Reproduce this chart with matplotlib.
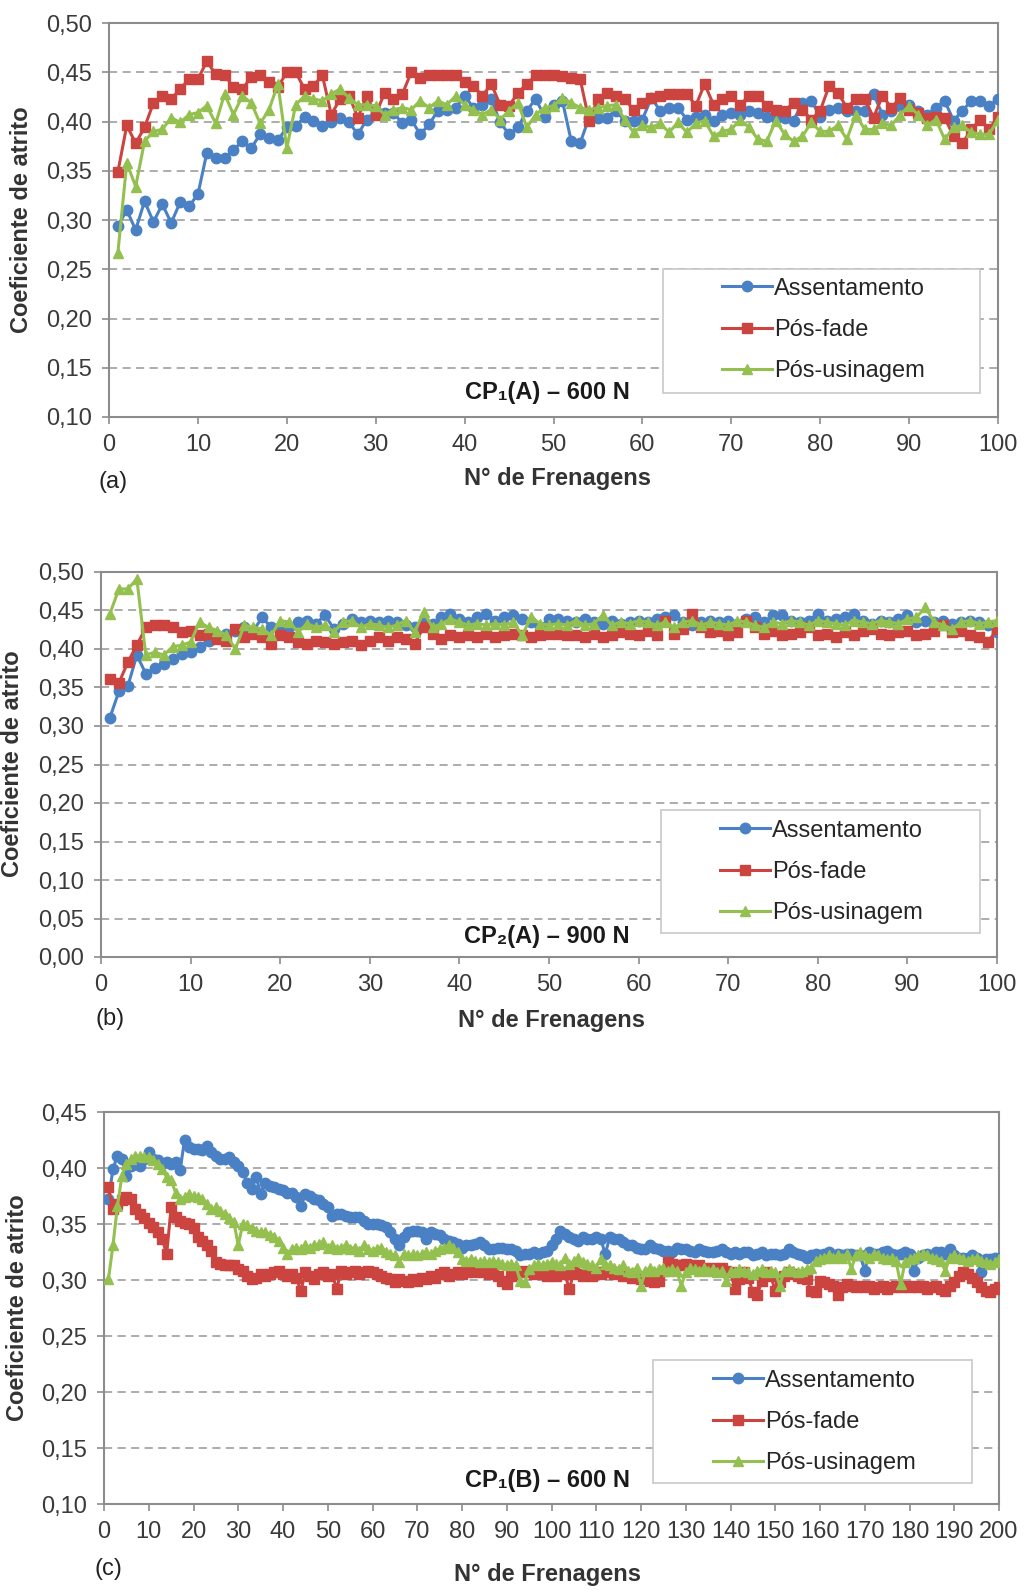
import numpy as np
import matplotlib
matplotlib.use("Agg")
import matplotlib.pyplot as plt
from matplotlib.patches import Rectangle
from matplotlib.ticker import FuncFormatter

plt.rcParams['font.family'] = ['Liberation Sans', 'DejaVu Sans']

# series names and colours (Excel style)
series_names = ["Assentamento", "Pós-fade", "Pós-usinagem"]
series_colors = ["#4A80C4", "#CC4440", "#94C04F"]
series_markers = ["o", "s", "^"]

# ---- (a) CP1(A) - 600 N ----
frenagens_a = np.arange(1, 101)
assent_a = [0.294, 0.310, 0.290, 0.319, 0.298, 0.316, 0.297, 0.318, 0.314, 0.326,
            0.368, 0.363, 0.363, 0.371, 0.380, 0.373, 0.387, 0.383, 0.381, 0.394,
            0.395, 0.405, 0.401, 0.395, 0.399, 0.404, 0.399, 0.387, 0.402, 0.411,
            0.409, 0.409, 0.398, 0.402, 0.387, 0.397, 0.411, 0.412, 0.414, 0.426,
            0.414, 0.417, 0.423, 0.399, 0.387, 0.394, 0.411, 0.423, 0.405, 0.417,
            0.421, 0.380, 0.378, 0.404, 0.404, 0.404, 0.411, 0.401, 0.401, 0.402,
            0.424, 0.411, 0.414, 0.414, 0.402, 0.405, 0.407, 0.401, 0.407, 0.409,
            0.407, 0.411, 0.409, 0.405, 0.404, 0.404, 0.401, 0.419, 0.421, 0.405,
            0.412, 0.414, 0.411, 0.411, 0.411, 0.428, 0.407, 0.411, 0.416, 0.417,
            0.411, 0.407, 0.414, 0.421, 0.401, 0.411, 0.421, 0.421, 0.416, 0.423]
posfade_a = [0.349, 0.396, 0.378, 0.394, 0.419, 0.426, 0.423, 0.433, 0.443, 0.443,
             0.461, 0.448, 0.447, 0.435, 0.433, 0.445, 0.447, 0.440, 0.435, 0.450,
             0.450, 0.433, 0.436, 0.447, 0.407, 0.423, 0.426, 0.404, 0.426, 0.407,
             0.429, 0.423, 0.428, 0.450, 0.444, 0.447, 0.447, 0.447, 0.447, 0.440,
             0.436, 0.426, 0.438, 0.417, 0.416, 0.429, 0.438, 0.447, 0.447, 0.447,
             0.446, 0.444, 0.443, 0.401, 0.423, 0.429, 0.426, 0.423, 0.412, 0.419,
             0.424, 0.426, 0.428, 0.428, 0.428, 0.416, 0.438, 0.417, 0.423, 0.426,
             0.417, 0.426, 0.426, 0.416, 0.412, 0.411, 0.419, 0.412, 0.402, 0.411,
             0.436, 0.429, 0.414, 0.423, 0.423, 0.404, 0.426, 0.414, 0.424, 0.412,
             0.409, 0.404, 0.405, 0.404, 0.385, 0.378, 0.392, 0.402, 0.392, 0.405]
posusin_a = [0.267, 0.358, 0.334, 0.380, 0.390, 0.392, 0.404, 0.399, 0.407, 0.409,
             0.416, 0.398, 0.428, 0.407, 0.426, 0.419, 0.398, 0.412, 0.438, 0.373,
             0.417, 0.426, 0.423, 0.421, 0.428, 0.433, 0.424, 0.417, 0.417, 0.416,
             0.407, 0.412, 0.414, 0.412, 0.421, 0.414, 0.421, 0.417, 0.426, 0.417,
             0.412, 0.407, 0.412, 0.402, 0.411, 0.419, 0.394, 0.407, 0.414, 0.416,
             0.424, 0.419, 0.414, 0.412, 0.414, 0.416, 0.417, 0.402, 0.389, 0.396,
             0.394, 0.398, 0.389, 0.399, 0.389, 0.398, 0.401, 0.385, 0.390, 0.392,
             0.402, 0.394, 0.382, 0.380, 0.401, 0.387, 0.380, 0.385, 0.399, 0.390,
             0.390, 0.396, 0.382, 0.407, 0.392, 0.392, 0.398, 0.396, 0.407, 0.416,
             0.407, 0.396, 0.402, 0.382, 0.394, 0.396, 0.389, 0.387, 0.387, 0.402]

# ---- (b) CP2(A) - 900 N ----
frenagens_b = np.arange(1, 101)
assent_b = [0.311, 0.345, 0.352, 0.392, 0.368, 0.375, 0.381, 0.387, 0.394, 0.396,
            0.403, 0.411, 0.416, 0.420, 0.424, 0.428, 0.424, 0.441, 0.428, 0.426,
            0.428, 0.435, 0.437, 0.433, 0.444, 0.426, 0.433, 0.439, 0.435, 0.437,
            0.435, 0.437, 0.435, 0.431, 0.428, 0.435, 0.433, 0.441, 0.446, 0.439,
            0.435, 0.441, 0.446, 0.437, 0.441, 0.444, 0.439, 0.435, 0.428, 0.439,
            0.439, 0.437, 0.435, 0.439, 0.435, 0.433, 0.437, 0.433, 0.435, 0.437,
            0.435, 0.439, 0.441, 0.444, 0.435, 0.431, 0.435, 0.437, 0.435, 0.437,
            0.433, 0.439, 0.441, 0.435, 0.444, 0.444, 0.437, 0.435, 0.437, 0.446,
            0.437, 0.439, 0.441, 0.446, 0.437, 0.433, 0.437, 0.435, 0.439, 0.444,
            0.435, 0.437, 0.435, 0.437, 0.433, 0.435, 0.437, 0.435, 0.431, 0.422]
posfade_b = [0.361, 0.356, 0.383, 0.405, 0.428, 0.431, 0.431, 0.428, 0.422, 0.424,
             0.418, 0.420, 0.413, 0.411, 0.426, 0.416, 0.420, 0.416, 0.407, 0.418,
             0.416, 0.409, 0.407, 0.411, 0.409, 0.407, 0.409, 0.411, 0.405, 0.411,
             0.416, 0.411, 0.416, 0.413, 0.407, 0.428, 0.420, 0.413, 0.418, 0.416,
             0.418, 0.416, 0.420, 0.416, 0.418, 0.420, 0.418, 0.416, 0.418, 0.420,
             0.420, 0.418, 0.418, 0.416, 0.420, 0.416, 0.418, 0.422, 0.420, 0.418,
             0.424, 0.418, 0.437, 0.420, 0.426, 0.446, 0.428, 0.422, 0.424, 0.418,
             0.422, 0.437, 0.428, 0.420, 0.424, 0.418, 0.420, 0.422, 0.428, 0.418,
             0.420, 0.416, 0.422, 0.418, 0.424, 0.426, 0.420, 0.418, 0.422, 0.424,
             0.418, 0.420, 0.424, 0.431, 0.422, 0.424, 0.418, 0.416, 0.409, 0.426]
posusin_b = [0.446, 0.478, 0.478, 0.491, 0.392, 0.396, 0.392, 0.403, 0.405, 0.409,
             0.435, 0.428, 0.424, 0.418, 0.400, 0.431, 0.428, 0.426, 0.418, 0.437,
             0.435, 0.422, 0.433, 0.428, 0.431, 0.422, 0.435, 0.437, 0.428, 0.433,
             0.431, 0.428, 0.431, 0.437, 0.422, 0.448, 0.428, 0.433, 0.439, 0.435,
             0.431, 0.433, 0.431, 0.433, 0.431, 0.435, 0.418, 0.441, 0.433, 0.431,
             0.433, 0.431, 0.437, 0.431, 0.433, 0.444, 0.431, 0.435, 0.433, 0.437,
             0.435, 0.431, 0.435, 0.428, 0.435, 0.437, 0.431, 0.435, 0.433, 0.431,
             0.437, 0.435, 0.431, 0.428, 0.435, 0.433, 0.437, 0.435, 0.431, 0.437,
             0.435, 0.433, 0.431, 0.437, 0.435, 0.433, 0.437, 0.435, 0.433, 0.439,
             0.441, 0.454, 0.435, 0.431, 0.426, 0.435, 0.437, 0.433, 0.435, 0.437]

# ---- (c) CP1(B) - 600 N ----
frenagens_c = np.arange(1, 201)
assent_c = [0.372, 0.399, 0.411, 0.408, 0.393, 0.402, 0.404, 0.402, 0.408, 0.414,
            0.408, 0.407, 0.404, 0.405, 0.404, 0.405, 0.398, 0.425, 0.419, 0.417,
            0.417, 0.416, 0.420, 0.414, 0.411, 0.408, 0.408, 0.410, 0.405, 0.402,
            0.396, 0.387, 0.381, 0.392, 0.377, 0.387, 0.384, 0.383, 0.381, 0.380,
            0.378, 0.378, 0.374, 0.366, 0.377, 0.375, 0.372, 0.371, 0.368, 0.365,
            0.357, 0.359, 0.359, 0.357, 0.356, 0.356, 0.356, 0.353, 0.350, 0.350,
            0.350, 0.349, 0.347, 0.343, 0.337, 0.331, 0.338, 0.343, 0.344, 0.344,
            0.343, 0.337, 0.343, 0.341, 0.340, 0.337, 0.335, 0.334, 0.332, 0.329,
            0.331, 0.331, 0.332, 0.334, 0.331, 0.328, 0.328, 0.329, 0.329, 0.328,
            0.328, 0.326, 0.322, 0.323, 0.323, 0.325, 0.323, 0.325, 0.326, 0.331,
            0.337, 0.344, 0.341, 0.338, 0.337, 0.335, 0.338, 0.337, 0.337, 0.338,
            0.337, 0.323, 0.338, 0.337, 0.337, 0.334, 0.331, 0.331, 0.329, 0.328,
            0.328, 0.331, 0.329, 0.328, 0.326, 0.326, 0.325, 0.329, 0.328, 0.328,
            0.326, 0.325, 0.328, 0.326, 0.325, 0.325, 0.326, 0.328, 0.325, 0.323,
            0.325, 0.323, 0.325, 0.325, 0.322, 0.323, 0.325, 0.322, 0.323, 0.323,
            0.322, 0.323, 0.328, 0.325, 0.323, 0.322, 0.320, 0.322, 0.323, 0.322,
            0.323, 0.325, 0.322, 0.323, 0.322, 0.323, 0.323, 0.322, 0.322, 0.308,
            0.325, 0.323, 0.323, 0.325, 0.326, 0.323, 0.322, 0.323, 0.325, 0.323,
            0.308, 0.320, 0.322, 0.323, 0.322, 0.325, 0.325, 0.323, 0.328, 0.322,
            0.320, 0.320, 0.320, 0.322, 0.320, 0.307, 0.319, 0.319, 0.320, 0.320]
posfade_c = [0.383, 0.363, 0.368, 0.371, 0.374, 0.372, 0.363, 0.359, 0.355, 0.351,
             0.347, 0.343, 0.337, 0.323, 0.365, 0.356, 0.353, 0.351, 0.350, 0.346,
             0.338, 0.335, 0.331, 0.326, 0.316, 0.314, 0.313, 0.313, 0.313, 0.310,
             0.308, 0.304, 0.301, 0.302, 0.305, 0.304, 0.305, 0.307, 0.308, 0.305,
             0.304, 0.305, 0.302, 0.290, 0.307, 0.304, 0.301, 0.305, 0.307, 0.304,
             0.305, 0.292, 0.308, 0.305, 0.307, 0.308, 0.305, 0.307, 0.308, 0.307,
             0.305, 0.304, 0.302, 0.301, 0.298, 0.301, 0.299, 0.298, 0.301, 0.299,
             0.302, 0.301, 0.304, 0.302, 0.305, 0.307, 0.304, 0.305, 0.307, 0.305,
             0.307, 0.308, 0.307, 0.308, 0.307, 0.305, 0.307, 0.304, 0.299, 0.296,
             0.304, 0.305, 0.307, 0.308, 0.307, 0.305, 0.307, 0.305, 0.304, 0.305,
             0.304, 0.307, 0.305, 0.292, 0.307, 0.305, 0.304, 0.305, 0.304, 0.307,
             0.305, 0.307, 0.308, 0.305, 0.307, 0.304, 0.305, 0.302, 0.304, 0.301,
             0.302, 0.299, 0.298, 0.299, 0.308, 0.316, 0.314, 0.313, 0.313, 0.314,
             0.313, 0.311, 0.313, 0.311, 0.310, 0.311, 0.308, 0.311, 0.308, 0.307,
             0.292, 0.301, 0.307, 0.302, 0.289, 0.287, 0.299, 0.307, 0.304, 0.290,
             0.298, 0.304, 0.307, 0.305, 0.304, 0.302, 0.301, 0.290, 0.289, 0.299,
             0.298, 0.296, 0.295, 0.287, 0.294, 0.296, 0.295, 0.294, 0.295, 0.294,
             0.295, 0.292, 0.294, 0.295, 0.292, 0.294, 0.295, 0.294, 0.295, 0.294,
             0.295, 0.294, 0.295, 0.292, 0.294, 0.295, 0.292, 0.290, 0.295, 0.298,
             0.304, 0.307, 0.305, 0.302, 0.298, 0.294, 0.290, 0.289, 0.292, 0.294]
posusin_c = [0.301, 0.331, 0.366, 0.393, 0.404, 0.408, 0.411, 0.411, 0.410, 0.410,
             0.407, 0.404, 0.399, 0.392, 0.389, 0.378, 0.372, 0.374, 0.377, 0.375,
             0.374, 0.372, 0.368, 0.363, 0.365, 0.362, 0.359, 0.355, 0.352, 0.331,
             0.350, 0.349, 0.346, 0.344, 0.343, 0.343, 0.340, 0.338, 0.335, 0.329,
             0.323, 0.328, 0.329, 0.328, 0.331, 0.329, 0.331, 0.332, 0.334, 0.329,
             0.331, 0.328, 0.329, 0.331, 0.328, 0.329, 0.326, 0.331, 0.328, 0.326,
             0.328, 0.329, 0.325, 0.323, 0.322, 0.316, 0.323, 0.322, 0.323, 0.322,
             0.323, 0.325, 0.323, 0.326, 0.328, 0.329, 0.331, 0.329, 0.325, 0.319,
             0.317, 0.319, 0.317, 0.316, 0.317, 0.316, 0.317, 0.316, 0.314, 0.313,
             0.314, 0.313, 0.299, 0.298, 0.310, 0.313, 0.314, 0.313, 0.314, 0.316,
             0.314, 0.313, 0.320, 0.314, 0.317, 0.320, 0.316, 0.314, 0.313, 0.311,
             0.319, 0.314, 0.313, 0.311, 0.310, 0.313, 0.308, 0.307, 0.311, 0.295,
             0.308, 0.311, 0.308, 0.310, 0.311, 0.308, 0.310, 0.308, 0.295, 0.307,
             0.311, 0.310, 0.308, 0.311, 0.308, 0.310, 0.307, 0.308, 0.299, 0.308,
             0.307, 0.310, 0.308, 0.307, 0.305, 0.308, 0.310, 0.307, 0.308, 0.307,
             0.295, 0.308, 0.310, 0.308, 0.307, 0.308, 0.310, 0.311, 0.317, 0.319,
             0.320, 0.322, 0.320, 0.322, 0.320, 0.323, 0.310, 0.322, 0.325, 0.322,
             0.320, 0.323, 0.322, 0.320, 0.319, 0.320, 0.317, 0.296, 0.316, 0.319,
             0.320, 0.322, 0.323, 0.322, 0.320, 0.319, 0.317, 0.308, 0.320, 0.322,
             0.320, 0.319, 0.317, 0.319, 0.320, 0.317, 0.316, 0.314, 0.316, 0.319]

W, H = 1033, 1590
fig = plt.figure(figsize=(W / 100, H / 100), dpi=100)

GRAY = "#8c8c8c"
comma = FuncFormatter(lambda v, p: ("%.2f" % v).replace(".", ","))


def px_axes(left, top, right, bottom):
    # axes rect from pixel box (origin top-left)
    return [left / W, 1 - bottom / H, (right - left) / W, (bottom - top) / H]


def panel(rect, x, series, ylim, xmax, xstep, tag, leg_box, leg_anchor):
    ax = fig.add_axes(rect)
    for vals, name, c, m in zip(series, series_names, series_colors, series_markers):
        ax.plot(x, vals, color=c, marker=m, markersize=7.5, lw=2.2,
                markerfacecolor=c, markeredgecolor=c, label=name, zorder=3)
    ax.set_xlim(0, xmax)
    ax.set_ylim(*ylim)
    ax.set_xticks(np.arange(0, xmax + 1, xstep))
    ax.set_yticks(np.arange(ylim[0], ylim[1] + 0.001, 0.05))
    ax.yaxis.set_major_formatter(comma)
    ax.yaxis.grid(True, color="#a6a6a6", lw=1.3, linestyle=(0, (4.5, 3)))
    ax.set_axisbelow(True)
    for s in ax.spines.values():
        s.set_color(GRAY)
        s.set_linewidth(1.5)
    ax.tick_params(direction="out", length=5, width=1.2, color=GRAY,
                   labelsize=17, labelcolor="#3a3a3a", pad=7)

    ax.text(tag[0], tag[1], tag[2], transform=ax.transAxes, ha="center",
            va="center", fontsize=17, fontweight="bold", color="#1a1a1a",
            zorder=6)

    # legend frame drawn by hand, Excel style (wide left padding)
    ax.add_patch(Rectangle((leg_box[0], leg_box[1]), leg_box[2] - leg_box[0],
                           leg_box[3] - leg_box[1], transform=ax.transAxes,
                           facecolor="white", edgecolor="#c8c8c8", lw=1.2,
                           zorder=4))
    leg = ax.legend(loc="center left", bbox_to_anchor=leg_anchor, frameon=False,
                    fontsize=17, handlelength=2.1, handletextpad=0.1,
                    labelspacing=0.82, borderpad=0, borderaxespad=0,
                    numpoints=1)
    leg.set_zorder(5)
    for t in leg.get_texts():
        t.set_color("#262626")
    return ax


# (a)
panel(px_axes(109, 23, 998, 417), frenagens_a, [assent_a, posfade_a, posusin_a],
      (0.10, 0.50), 100, 10, (0.493, 0.063, "CP\u2081(A) \u2013 600 N"),
      (0.623, 0.061, 0.980, 0.376), (0.690, 0.221))
# (b)
panel(px_axes(101, 572, 997, 957), frenagens_b, [assent_b, posfade_b, posusin_b],
      (0.00, 0.50), 100, 10, (0.498, 0.052, "CP\u2082(A) \u2013 900 N"),
      (0.625, 0.062, 0.981, 0.382), (0.691, 0.221))
# (c)
panel(px_axes(104, 1112, 999, 1504), frenagens_c, [assent_c, posfade_c, posusin_c],
      (0.10, 0.45), 200, 10, (0.495, 0.059, "CP\u2081(B) \u2013 600 N"),
      (0.613, 0.054, 0.970, 0.367), (0.681, 0.209))

# axis titles and panel letters, placed in pixels
def ftext(x, y, s, **kw):
    fig.text(x / W, 1 - y / H, s, ha="center", va="center", **kw)

for (yx, yy), (xx, xy), (lx, ly, lt) in [((22, 220), (557, 479), (113, 482, "(a)")),
                                         ((13, 764), (552, 1021), (110, 1019, "(b)")),
                                         ((18, 1308), (548, 1575), (108, 1569, "(c)"))]:
    ftext(yx, yy, "Coeficiente de atrito", rotation=90, fontsize=17,
          fontweight="bold", color="#333333")
    ftext(xx, xy, "N\u00b0 de Frenagens", fontsize=17, fontweight="bold",
          color="#333333")
    ftext(lx, ly, lt, fontsize=17, color="#222222")

fig.savefig("out.png", dpi=100, facecolor="white")
